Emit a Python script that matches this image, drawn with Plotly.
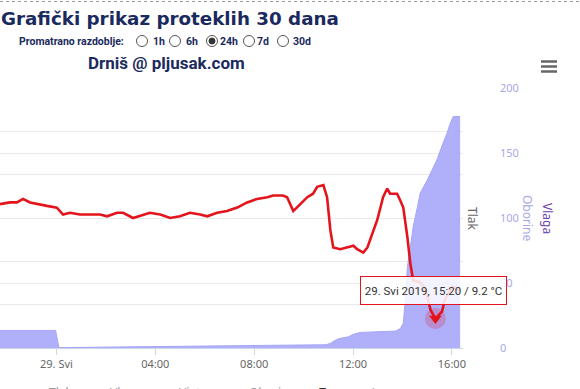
import plotly.graph_objects as go

W, H = 580, 389

# ---------------- data ----------------
temp_times = [
    "2019-05-28 21:43", "2019-05-28 22:07", "2019-05-28 22:24", "2019-05-28 22:39",
    "2019-05-28 22:56", "2019-05-28 23:13", "2019-05-28 23:37", "2019-05-29 00:01",
    "2019-05-29 00:16", "2019-05-29 00:33", "2019-05-29 00:57", "2019-05-29 01:46",
    "2019-05-29 02:03", "2019-05-29 02:27", "2019-05-29 02:42", "2019-05-29 03:06",
    "2019-05-29 03:30", "2019-05-29 03:47", "2019-05-29 04:12", "2019-05-29 04:36",
    "2019-05-29 05:00", "2019-05-29 05:24", "2019-05-29 05:49", "2019-05-29 06:06",
    "2019-05-29 06:30", "2019-05-29 06:54", "2019-05-29 07:19", "2019-05-29 07:43",
    "2019-05-29 08:07", "2019-05-29 08:32", "2019-05-29 08:46", "2019-05-29 09:10",
    "2019-05-29 09:20", "2019-05-29 09:35", "2019-05-29 09:52", "2019-05-29 10:09",
    "2019-05-29 10:23", "2019-05-29 10:33", "2019-05-29 10:48", "2019-05-29 10:57",
    "2019-05-29 11:05", "2019-05-29 11:12", "2019-05-29 11:29", "2019-05-29 11:46",
    "2019-05-29 12:01", "2019-05-29 12:10", "2019-05-29 12:25", "2019-05-29 12:35",
    "2019-05-29 12:49", "2019-05-29 12:59", "2019-05-29 13:13", "2019-05-29 13:23",
    "2019-05-29 13:30", "2019-05-29 13:47", "2019-05-29 13:55", "2019-05-29 14:02",
    "2019-05-29 14:12", "2019-05-29 14:19", "2019-05-29 14:26", "2019-05-29 14:43",
    "2019-05-29 14:56", "2019-05-29 15:08", "2019-05-29 15:20", "2019-05-29 15:36",
    "2019-05-29 15:43", "2019-05-29 16:00", "2019-05-29 16:08", "2019-05-29 16:20",
]
temp_values = [
    15.8, 15.9, 15.9, 16.1, 15.9, 15.8, 15.7, 15.6,
    15.2, 15.3, 15.2, 15.2, 15.1, 15.3, 15.3, 15.0,
    15.2, 15.3, 15.2, 15.0, 15.1, 15.3, 15.2, 15.1,
    15.3, 15.4, 15.6, 15.9, 16.1, 16.2, 16.3, 16.3,
    16.2, 15.4, 15.8, 16.2, 16.4, 16.8, 16.9, 16.2,
    14.3, 13.3, 13.2, 13.3, 13.4, 13.2, 13.0, 13.3,
    14.3, 14.9, 16.2, 16.7, 16.4, 16.4, 16.0, 15.6,
    13.9, 12.4, 11.4, 11.3, 10.9, 9.7, 9.2, 9.6,
    10.3, 11.0, 11.0, 10.8,
]

rain_times = [
    "2019-05-28 21:43", "2019-05-28 23:58", "2019-05-29 00:06", "2019-05-29 02:10",
    "2019-05-29 05:49", "2019-05-29 09:28", "2019-05-29 10:53", "2019-05-29 11:05",
    "2019-05-29 11:17", "2019-05-29 11:29", "2019-05-29 11:48", "2019-05-29 12:01",
    "2019-05-29 12:18", "2019-05-29 13:43", "2019-05-29 13:55", "2019-05-29 14:02",
    "2019-05-29 14:07", "2019-05-29 14:12", "2019-05-29 14:19", "2019-05-29 14:26",
    "2019-05-29 14:36", "2019-05-29 14:43", "2019-05-29 15:00", "2019-05-29 15:15",
    "2019-05-29 15:24", "2019-05-29 15:39", "2019-05-29 15:48", "2019-05-29 15:55",
    "2019-05-29 16:03", "2019-05-29 16:20",
]
rain_values = [
    13.5, 13.5, 0.3, 0.8, 1.5, 2.0, 2.5, 3.5,
    6.0, 7.5, 8.5, 10.5, 12.0, 13.0, 15.0, 19.0,
    37.0, 62.0, 78.0, 93.0, 108.0, 119.0, 129.0, 139.0,
    145.0, 158.0, 165.0, 172.0, 178.0, 178.0,
]

x_tick_vals = ["2019-05-29 00:00", "2019-05-29 04:00", "2019-05-29 08:00",
               "2019-05-29 12:00", "2019-05-29 16:00"]
x_tick_text = ["29. Svi", "04:00", "08:00", "12:00", "16:00"]

hover_time = "2019-05-29 15:20"
hover_value = 9.2
tooltip_text = "29. Svi 2019, 15:20 / 9.2 °C"

period_options = ["1h", "6h", "24h", "7d", "30d"]
selected_period = "24h"
legend_items = ["Tlak", "Vlaga", "Vjetar", "Oborine", "Temperatura"]

# ---------------- helpers ----------------
def px(x):
    return x / W

def py(y):
    return 1 - y / H

NAVY = "#1b2a5e"
FONT = "Noto Sans"

fig = go.Figure()

fig.add_trace(go.Scatter(
    x=rain_times, y=rain_values, yaxis="y", mode="lines",
    line=dict(color="#a6a6f7", width=1), fill="tozeroy",
    fillcolor="rgba(168,168,250,0.92)", hoverinfo="skip", showlegend=False,
))
fig.add_trace(go.Scatter(
    x=temp_times, y=temp_values, yaxis="y2", mode="lines",
    line=dict(color="#e3141b", width=2.6), hoverinfo="skip", showlegend=False,
))
fig.add_trace(go.Scatter(
    x=[hover_time], y=[hover_value], yaxis="y2", mode="markers",
    marker=dict(symbol="circle", size=21, color="rgba(225,20,40,0.22)"),
    hoverinfo="skip", showlegend=False,
))
fig.add_trace(go.Scatter(
    x=[hover_time], y=[hover_value], yaxis="y2", mode="markers",
    marker=dict(symbol="triangle-down", size=11, color="#e3141b"),
    hoverinfo="skip", showlegend=False,
))

dom_y = [py(348), py(88)]

fig.update_layout(
    width=W, height=H,
    margin=dict(l=0, r=0, t=0, b=0, pad=0, autoexpand=False),
    paper_bgcolor="white", plot_bgcolor="white",
    hovermode=False,
    font=dict(family=FONT, color="#666666", size=11),
    xaxis=dict(
        type="date", domain=[0, px(463)], automargin=False,
        range=["2019-05-28 21:43", "2019-05-29 16:27"],
        tickvals=x_tick_vals, ticktext=x_tick_text,
        showgrid=False, showline=True, linecolor="#ccd6eb", linewidth=1,
        ticks="outside", ticklen=6, tickcolor="#ccd6eb",
        tickfont=dict(family=FONT, size=11, color="#666666"),
        zeroline=False,
    ),
    yaxis=dict(
        domain=dom_y, side="right", range=[0, 200], dtick=50, automargin=False,
        showgrid=True, gridcolor="#e9e9e9", zeroline=False,
        ticks="", ticklabelstandoff=36,
        tickfont=dict(family=FONT, size=11, color="#a8a8e8"),
    ),
    yaxis2=dict(
        overlaying="y", range=[7.5, 22.5], dtick=2.5, tick0=7.5, automargin=False,
        showgrid=True, gridcolor="#e9e9e9", zeroline=False,
        showticklabels=False, ticks="",
    ),
)

ann = []
# header
ann.append(dict(x=px(-1), y=py(18), text="<b>Grafički prikaz proteklih 30 dana</b>",
                font=dict(family="DejaVu Sans", size=18.3, color=NAVY),
                xanchor="left", yanchor="middle"))
ann.append(dict(x=px(17), y=py(41), text="<b>Promatrano razdoblje:</b>",
                font=dict(family="Roboto", size=10.5, color=NAVY),
                xanchor="left", yanchor="middle"))
radio_cx = [142, 175, 212, 249, 283]
label_x = [151, 184, 218, 255, 291]
for opt, lx in zip(period_options, label_x):
    ann.append(dict(x=px(lx), y=py(41), text="<b>%s</b>" % opt,
                    font=dict(family="Roboto", size=10.5, color=NAVY),
                    xanchor="left", yanchor="middle"))
ann.append(dict(x=px(166), y=py(63), text="<b>Drniš @ pljusak.com</b>",
                font=dict(family="Roboto", size=17, color=NAVY),
                xanchor="center", yanchor="middle"))
# axis titles
ann.append(dict(x=px(473), y=py(219), text="Tlak", textangle=90,
                font=dict(family=FONT, size=12, color="#666666"),
                xanchor="center", yanchor="middle"))
ann.append(dict(x=px(528), y=py(218), text="Oborine", textangle=90,
                font=dict(family=FONT, size=12, color="#a8a8e8"),
                xanchor="center", yanchor="middle"))
ann.append(dict(x=px(548), y=py(218), text="Vlaga", textangle=90,
                font=dict(family=FONT, size=12, color="#6d3fa8"),
                xanchor="center", yanchor="middle"))
# tooltip
ann.append(dict(x=px(433.5), y=py(290.5), text=tooltip_text,
                font=dict(family="Roboto", size=11.5, color="#333333"),
                xanchor="center", yanchor="middle", showarrow=False,
                bgcolor="rgba(255,255,255,0.85)", bordercolor="#e3141b",
                borderwidth=1, width=141, height=23, borderpad=2))
# legend fragments (cut off at bottom)
leg_x = [47, 108, 177, 247, 317]
for name, lx in zip(legend_items, leg_x):
    bold = name == "Temperatura"
    ann.append(dict(x=px(lx), y=py(392), text=("<b>%s</b>" % name) if bold else name,
                    font=dict(family=FONT, size=12, color="#333333" if bold else "#999999"),
                    xanchor="left", yanchor="middle"))
for a in ann:
    a.setdefault("showarrow", False)
    a["xref"] = "paper"
    a["yref"] = "paper"
fig.update_layout(annotations=ann)

shapes = []
# dotted top line
shapes.append(dict(type="line", xref="paper", yref="paper", x0=0, x1=1, y0=py(1.5), y1=py(1.5),
                   line=dict(color="#9a9a9a", width=1, dash="dot")))
# radio buttons
for opt, cx in zip(period_options, radio_cx):
    r = 5.5
    shapes.append(dict(type="circle", xref="paper", yref="paper",
                       x0=px(cx - r), x1=px(cx + r), y0=py(41 + r), y1=py(41 - r),
                       line=dict(color="#555555", width=1), fillcolor="white"))
    if opt == selected_period:
        r2 = 3
        shapes.append(dict(type="circle", xref="paper", yref="paper",
                           x0=px(cx - r2), x1=px(cx + r2), y0=py(41 + r2), y1=py(41 - r2),
                           line=dict(color="#333333", width=1), fillcolor="#333333"))
# hamburger menu
for yy in (61.5, 66.5, 71.5):
    shapes.append(dict(type="line", xref="paper", yref="paper",
                       x0=px(541), x1=px(557), y0=py(yy), y1=py(yy),
                       line=dict(color="#666666", width=2.5)))
fig.update_layout(shapes=shapes)

fig.write_html(
    "out.html",
    config={"displayModeBar": False},
    post_script="document.body.style.margin='0px'; document.body.style.overflow='hidden';",
)
